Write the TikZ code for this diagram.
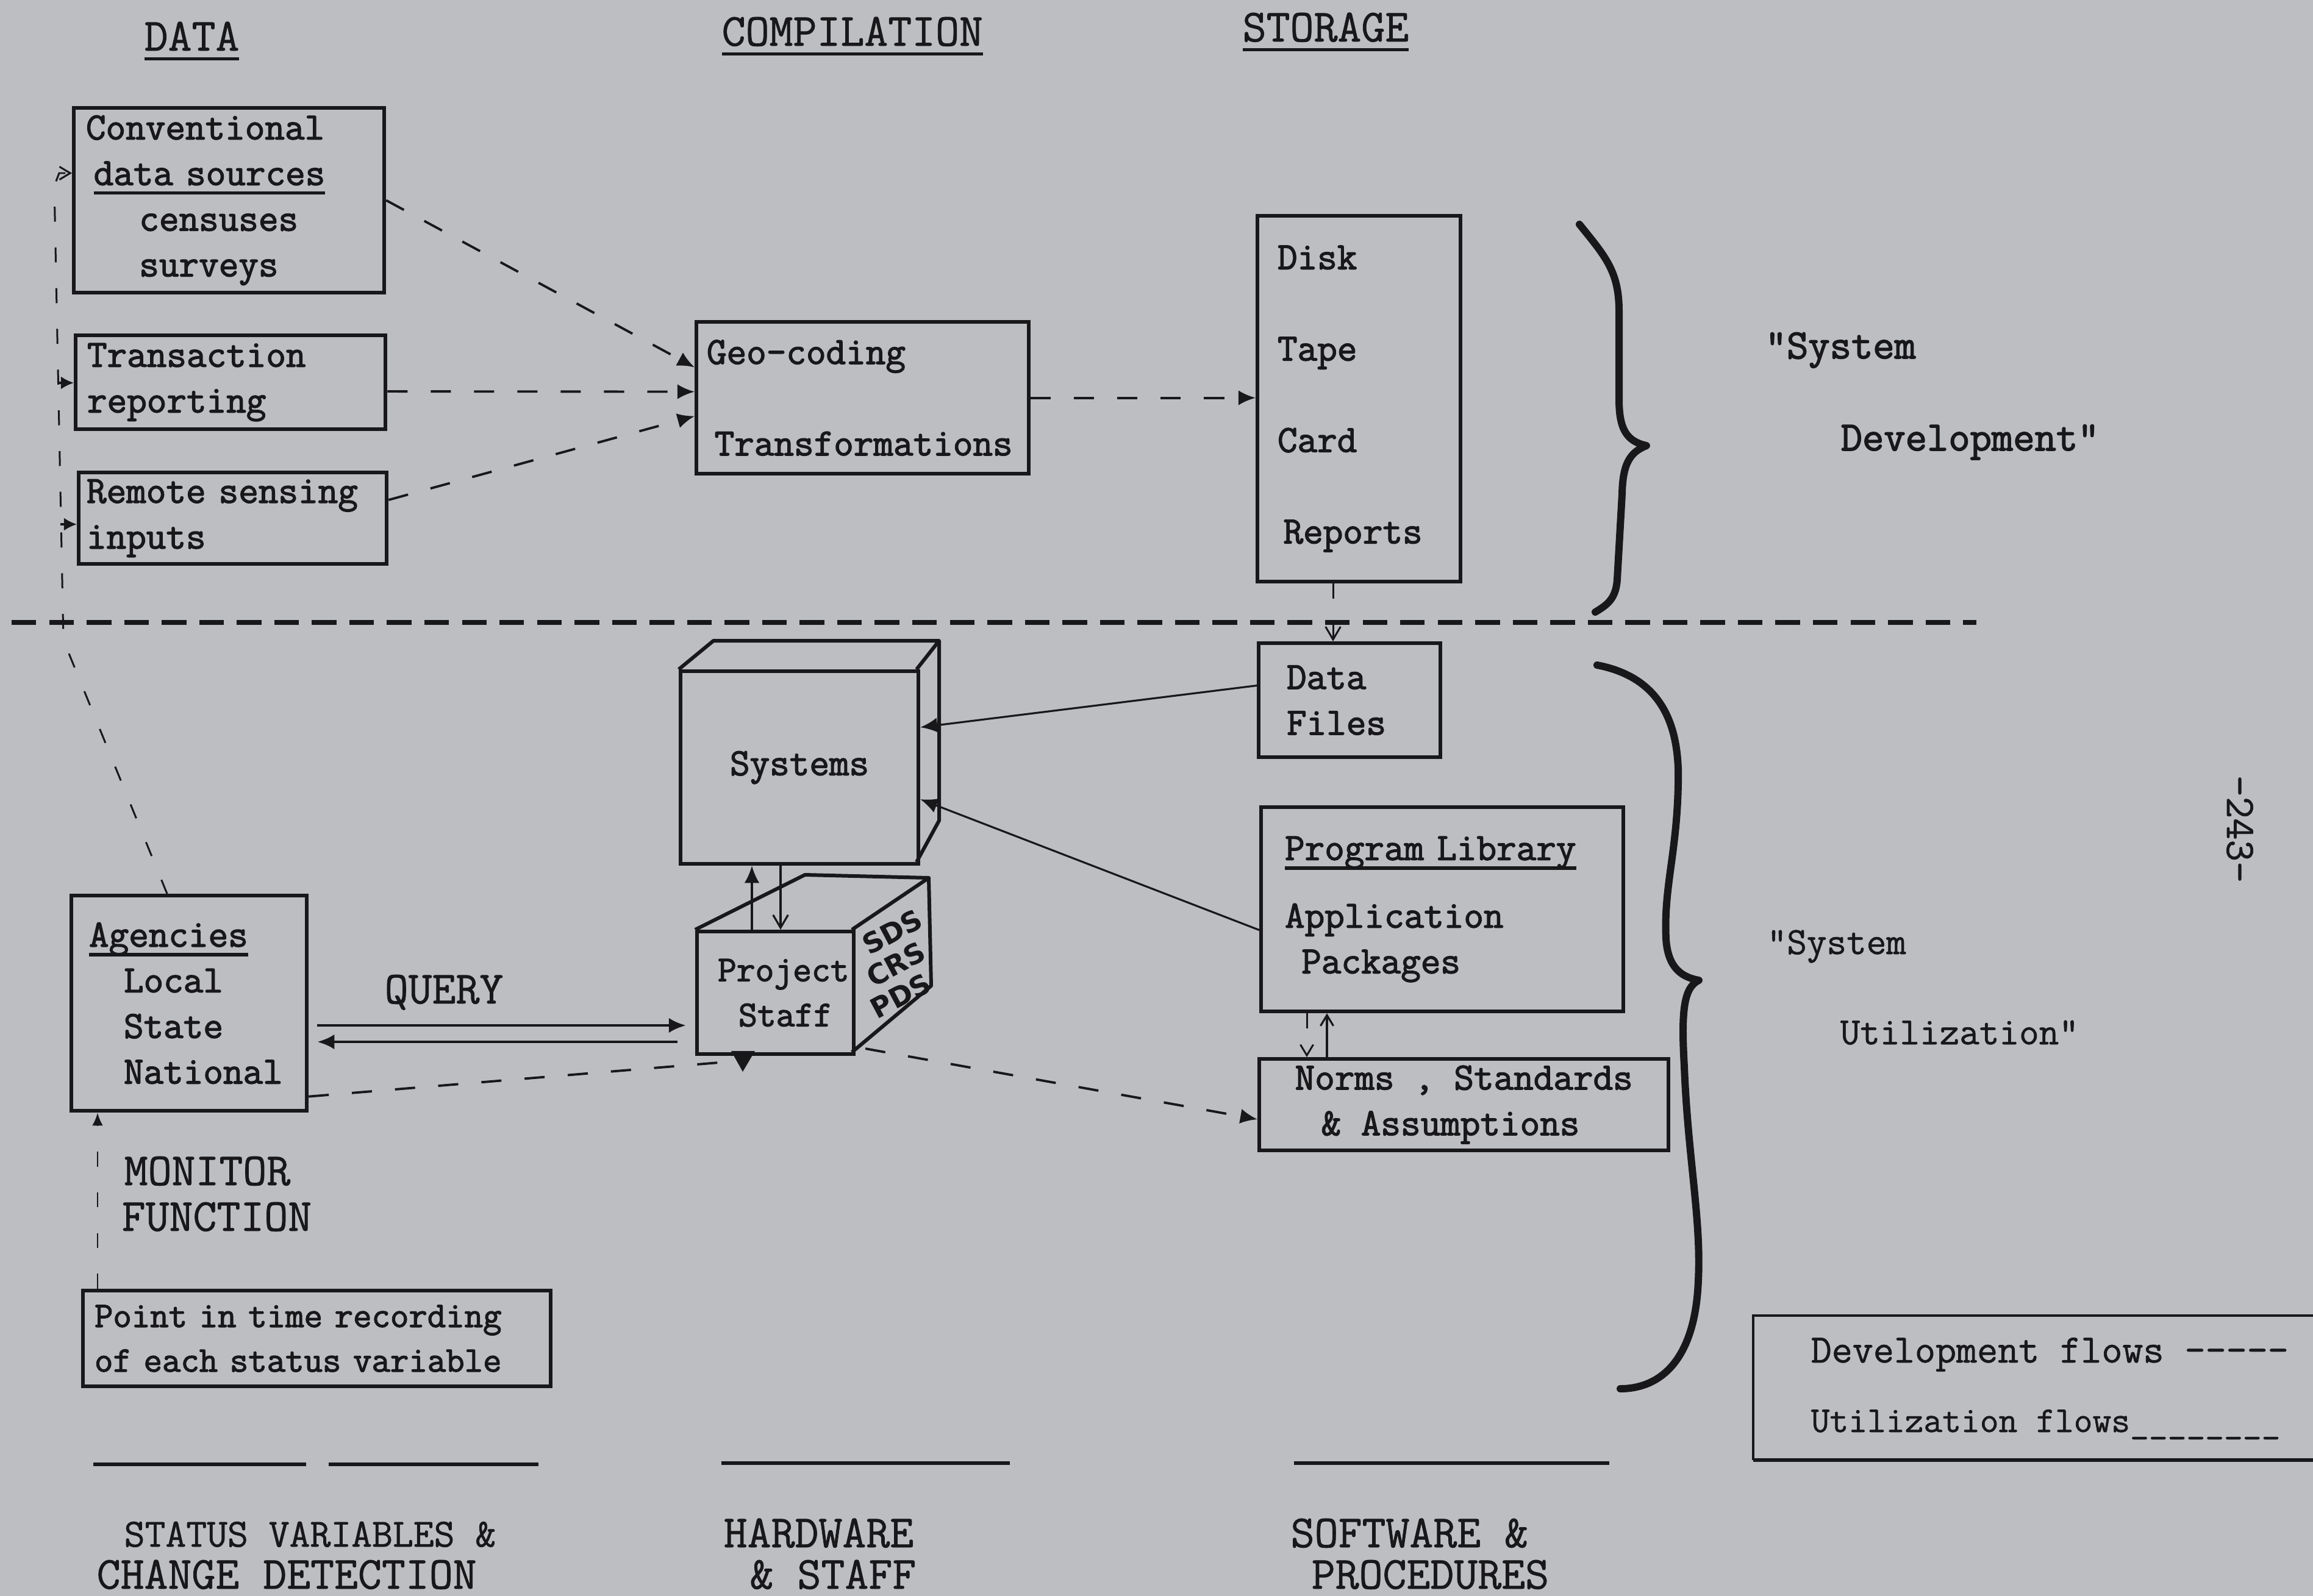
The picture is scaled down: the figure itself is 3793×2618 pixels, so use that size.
\documentclass[tikz,border=0pt]{standalone}
\usepackage{fontspec}
\setmainfont{Latin Modern Mono}
\newfontfamily\twb{Latin Modern Mono}[FakeBold=2.2]
\newfontfamily\twn{Latin Modern Mono}[FakeBold=1.0]
\newfontfamily\hand{DejaVu Sans}
\usetikzlibrary{arrows.meta}
\definecolor{bg}{RGB}{189,190,194}
\definecolor{ink}{RGB}{24,24,26}
\newsavebox\ulbox
\newcommand\myuline[1]{\sbox\ulbox{#1}\rlap{\raisebox{-4.5pt}{\rule{\wd\ulbox}{1.5pt}}}\usebox\ulbox}
\tikzset{
  tbox/.style={draw=ink, line width=1.7pt, anchor=north west, align=left, inner ysep=0pt, text=ink,
    font=\twb\fontsize{18}{21.3}\selectfont},
  dev/.style={draw=ink, line width=1.1pt, dash pattern=on 9.4pt off 10.8pt},
  devthin/.style={draw=ink, line width=0.85pt, dash pattern=on 7pt off 12pt},
  util/.style={draw=ink, line width=0.9pt},
  qline/.style={draw=ink, line width=1.4pt},
  sepline/.style={draw=ink, line width=2pt, dash pattern=on 11.5pt off 6pt},
  ruleline/.style={draw=ink, line width=1.8pt},
  hdr/.style={anchor=base west, text=ink, inner sep=0pt, font=\twn\fontsize{21.5}{25}\selectfont},
  lbl/.style={anchor=base west, text=ink, inner sep=0pt, font=\twb\fontsize{19.5}{23}\selectfont},
  thin/.style={anchor=base west, text=ink, inner sep=0pt, font=\twn\fontsize{18}{22}\selectfont},
  hw/.style={text=ink, inner sep=0pt, font=\hand\bfseries\fontsize{13}{14.1}\selectfont},
  bracestroke/.style={draw=ink, line width=3.4pt, line cap=round, line join=round},
  face/.style={draw=ink, line width=1.7pt, line join=round},
  >={Latex[length=8pt,width=7pt]}
}
\begin{document}
\begin{tikzpicture}[x=0.01cm, y=-0.01cm]
\fill[bg] (0,0) rectangle (3793,2618);
\useasboundingbox (0,0) rectangle (3793,2618);

% ---------- headers
\node[hdr] (hdata) at (236,83) {\myuline{DATA}};
\node[hdr] (hcomp) at (1183,75) {\myuline{COMPILATION}};
\node[hdr] (hstor) at (2037,68) {\myuline{STORAGE}};

% ---------- upper boxes
\node[tbox, inner xsep=0.2cm, text width=4.69cm, minimum height=3.03cm] (conv) at (118,174)
  {Conventional\\\hspace*{0.2em}\myuline{data sources}\\\hspace*{1.38em}censuses\\\hspace*{1.38em}surveys};
\node[tbox, inner xsep=0.19cm, text width=4.70cm, minimum height=1.54cm] (trans) at (121,547)
  {Transaction\\reporting};
\node[tbox, inner xsep=0.13cm, text width=4.79cm, minimum height=1.50cm] (remote) at (126,772)
  {\mbox{Remote sensing}\\inputs};
\node[tbox, inner xsep=0.17cm, text width=5.11cm, minimum height=2.49cm] (geo) at (1139,525)
  {\mbox{Geo-coding}\\[0.75cm]\hspace*{0.2em}\mbox{Transformations}};
\node[tbox, inner xsep=0.33cm, text width=2.67cm, minimum height=6.00cm] (storage) at (2059,351)
  {Disk\\[0.75cm]Tape\\[0.75cm]Card\\[0.75cm]\hspace*{0.15em}Reports};

% ---------- system development label
\node[lbl] (sd1) at (2894,588) {"System};
\node[lbl] (sd2) at (3018,739) {Development"};

% ---------- separator
\coordinate (sepL) at (19,1021);
\coordinate (sepR) at (3241,1021);
\draw[sepline] (sepL) -- (sepR);

% ---------- braces
\draw[bracestroke] (2590,368) .. controls (2632,420) and (2655,445) .. (2655,510)
  -- (2655,655) .. controls (2655,705) and (2668,724) .. (2700,731)
  .. controls (2672,742) and (2661,762) .. (2660,810)
  -- (2652,950) .. controls (2650,982) and (2636,992) .. (2616,1004);
\draw[bracestroke] (2619,1091) .. controls (2718,1110) and (2755,1180) .. (2752,1285)
  .. controls (2750,1400) and (2728,1455) .. (2732,1540)
  .. controls (2735,1588) and (2758,1603) .. (2786,1608)
  .. controls (2760,1620) and (2757,1662) .. (2762,1750)
  .. controls (2768,1900) and (2790,2000) .. (2785,2100)
  .. controls (2780,2232) and (2722,2278) .. (2657,2278);

% ---------- lower boxes
\node[tbox, inner xsep=0.46cm, text width=2.06cm, minimum height=1.87cm] (datafiles) at (2061,1052)
  {Data\\Files};
\node[tbox, inner xsep=0.39cm, text width=5.16cm, minimum height=3.35cm] (proglib) at (2065,1321)
  {\myuline{Program Library}\\[0.36cm]Application\\\hspace*{0.43em}Packages};
\node[tbox, inner xsep=0pt, minimum width=6.71cm, minimum height=1.50cm] (norms) at (2062,1734)
  {Norms , Standards\\\hspace*{0.68em}\& Assumptions};
\node[tbox, inner xsep=0.29cm, text width=3.28cm, minimum height=3.53cm] (agencies) at (114,1466)
  {\myuline{Agencies}\\\hspace*{0.9em}Local\\\hspace*{0.9em}State\\\hspace*{0.9em}National\\[0.3cm]};
\node[tbox, inner xsep=0.19cm, text width=7.29cm, minimum height=1.57cm,
  font=\twb\fontsize{16.8}{20.8}\selectfont] (point) at (133,2114)
  {Point in time recording\\of each status variable};

% ---------- Systems cube
\node[tbox, align=center, inner sep=0pt, minimum width=3.90cm, minimum height=3.16cm] (sysf) at (1113,1098) {Systems};
\draw[face] (1113,1098) -- (1170,1051) -- (1540,1051) -- (1503,1098);
\draw[face] (1540,1051) -- (1540,1346) -- (1503,1414);

% ---------- Project staff cube
\node[tbox, inner xsep=0.34cm, text width=1.89cm, minimum height=2.01cm,
  font=\twb\fontsize{17}{21}\selectfont] (staffF) at (1140,1525)
  {\mbox{Project}\\\hspace*{0.57em}Staff};
\draw[face] (1140,1525) -- (1320,1435) -- (1523,1440) -- (1397,1525);
\draw[face] (1523,1440) -- (1527,1617) -- (1397,1726);
\node[hw, rotate=28, align=left] (pkgs) at (1470,1581)
  {\hspace*{10.6pt}SDS\\\hspace*{5.3pt}CRS\\PDS};

% ---------- system utilization label, page number
\node[thin] (su1) at (2897,1565) {"System};
\node[thin] (su2) at (3017,1713) {Utilization"};
\node[text=ink, inner sep=0pt, rotate=-90, font=\twn\fontsize{19.5}{22}\selectfont] (pg) at (3673,1360) {-243-};

% ---------- development flows
\draw[dev,->] (conv.east) -- ([yshift=0.5cm]geo.west);
\draw[dev,->] ([yshift=-0.15cm]trans.east) -- ([yshift=0.1cm]geo.west);
\draw[dev,->] ([yshift=0.3cm]remote.east) -- ([yshift=-0.3cm]geo.west);
\draw[dev,->] (geo.east) -- (geo.east -| storage.west);
\coordinate (sdx) at (2186,0);
\draw[devthin,-{Straight Barb[length=6pt,width=7pt]}] (storage.south -| sdx) -- (datafiles.north -| sdx);

% left monitoring loop
\coordinate (ag1) at (274,0);
\coordinate (lv1) at (104,1050);
\coordinate (lv2) at (89,305);
\coordinate (lv3) at (97,284);
\draw[devthin,-{Straight Barb[length=5pt,width=6pt]}] (agencies.north -| ag1) -- (lv1) -- (lv2) -- (lv3) -- (lv3 -| conv.west);
\coordinate (tb) at (97,628);
\coordinate (rb) at (99,860);
\draw[util,-{Latex[length=6pt,width=6pt]}] (tb) -- (tb -| trans.west);
\draw[util,-{Latex[length=6pt,width=6pt]}] (rb) -- (rb -| remote.west);

% monitor
\coordinate (m1) at (160,0);
\draw[devthin,-{Latex[length=6pt,width=5pt]}] (point.north -| m1) -- (agencies.south -| m1);
\node[hdr] (mon1) at (203,1944) {MONITOR};
\node[hdr] (mon2) at (199,2019) {FUNCTION};

% query
\coordinate (q1) at (0,1682);
\coordinate (q2) at (0,1709);
\draw[qline,->,shorten <=0.14cm,shorten >=0.15cm] (agencies.east |- q1) -- (staffF.west |- q1);
\draw[qline,->,shorten <=0.29cm,shorten >=0.14cm] (staffF.west |- q2) -- (agencies.east |- q2);
\node[hdr] (query) at (630,1646) {QUERY};

% agencies <-> staff dashed
\coordinate (st) at (1203,1741);
\draw[dev] ([yshift=-1.53cm]agencies.east) -- (st);
\fill[ink] (1199,1724) -- (1238,1724) -- (1218,1758) -- cycle;

% staff -> norms
\draw[dev,->] ([xshift=0.16cm,yshift=0.12cm]staffF.south east) -- ([yshift=-0.24cm]norms.west);

% utilization flows
\draw[util,->] ([yshift=0.24cm]datafiles.west) -- ([yshift=0.66cm]sysf.east);
\draw[util,->] ([yshift=-0.34cm]proglib.west) -- ([yshift=-0.52cm]sysf.east);
\coordinate (a1) at (1233,0);
\coordinate (a2) at (1280,0);
\draw[util,->] (staffF.north -| a1) -- (sysf.south -| a1);
\draw[util,-{Straight Barb[length=6pt,width=7pt]}] (sysf.south -| a2) -- (staffF.north -| a2);
\coordinate (n1) at (2143,0);
\coordinate (n2) at (2176,0);
\draw[devthin,-{Straight Barb[length=5pt,width=6pt]}] (proglib.south -| n1) -- (norms.north -| n1);
\draw[util,-{Straight Barb[length=5pt,width=6pt]}] (norms.north -| n2) -- (proglib.south -| n2);

% ---------- bottom rules and labels
\coordinate (u1a) at (153,2402); \coordinate (u1b) at (502,2402);
\coordinate (u2a) at (539,2402); \coordinate (u2b) at (883,2402);
\coordinate (u3a) at (1183,2400); \coordinate (u3b) at (1656,2400);
\coordinate (u4a) at (2122,2400); \coordinate (u4b) at (2639,2400);
\draw[ruleline] (u1a) -- (u1b);
\draw[ruleline] (u2a) -- (u2b);
\draw[ruleline] (u3a) -- (u3b);
\draw[ruleline] (u4a) -- (u4b);
\node[hdr, font=\twn\fontsize{18.7}{22}\selectfont] (b1) at (203,2537) {STATUS VARIABLES \&};
\node[hdr] (b2) at (158,2606) {CHANGE DETECTION};
\node[hdr] (b3) at (1186,2538) {HARDWARE};
\node[hdr] (b4) at (1229,2606) {\& STAFF};
\node[hdr] (b5) at (2116,2538) {SOFTWARE \&};
\node[hdr] (b6) at (2150,2606) {PROCEDURES};

% ---------- legend
\coordinate (lg1) at (3793,2158);
\coordinate (lg2) at (2875,2395);
\coordinate (lg3) at (3793,2395);
\draw[draw=ink, line width=1.1pt] (lg1) -| (lg2);
\draw[ruleline] (lg2) -- (lg3);
\node[thin, font=\twn\fontsize{18.8}{22}\selectfont] (lgd) at (2969,2235) {Development flows -----};
\node[thin, font=\twn\fontsize{17}{22}\selectfont] (lgu) at (2969,2349) {Utilization flows\_\_\_\_\_\_\_\_};
\end{tikzpicture}
\end{document}
